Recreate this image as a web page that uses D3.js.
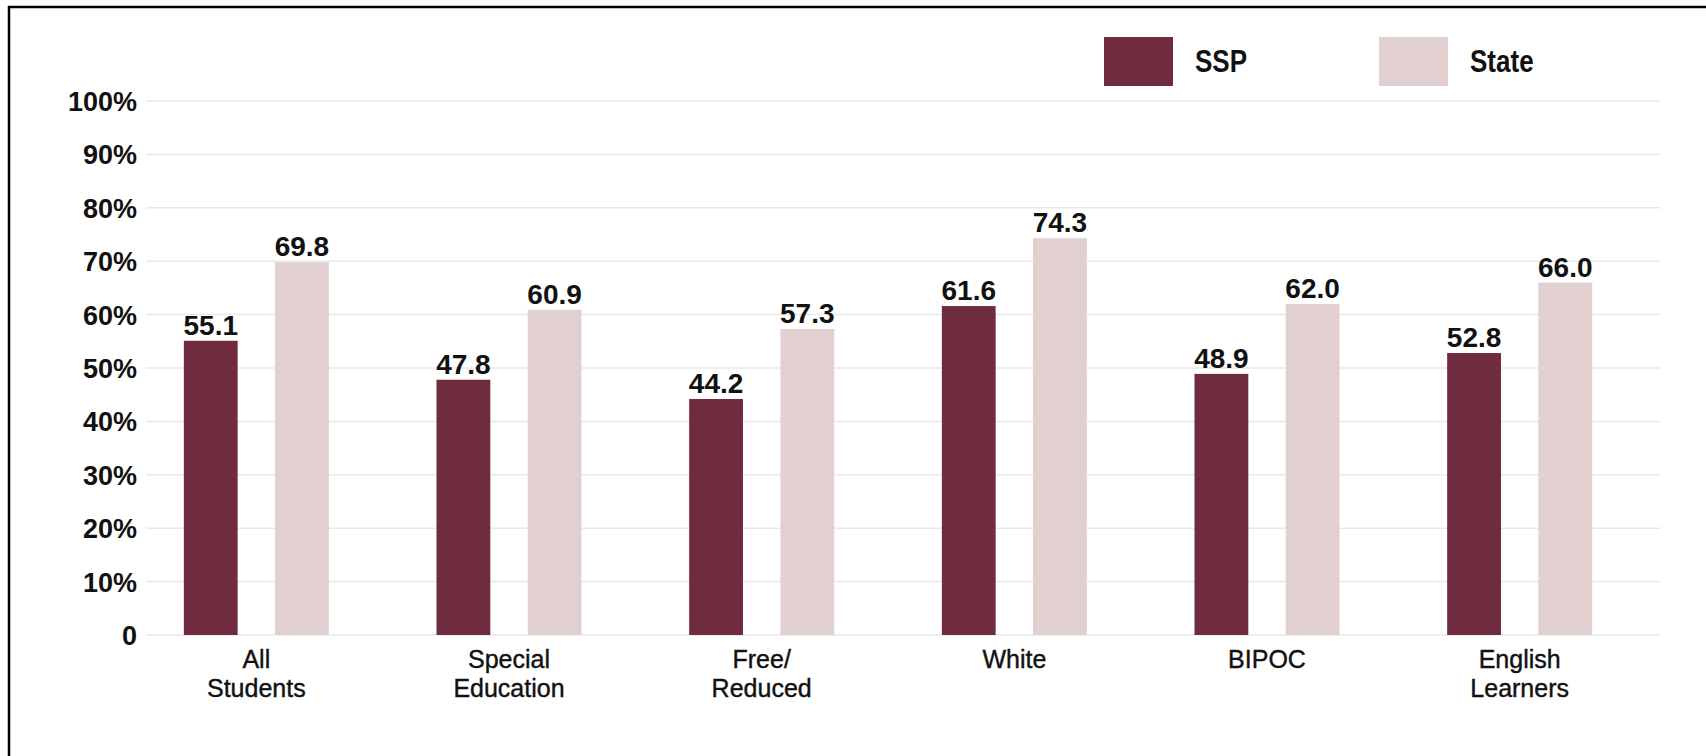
<!DOCTYPE html>
<html>
<head>
<meta charset="utf-8">
<script src="https://cdn.jsdelivr.net/npm/d3@7"></script>
<style>
  html, body { margin: 0; padding: 0; background: #fff; }
  svg { display: block; font-family: "Liberation Sans", Arial, sans-serif; }
</style>
</head>
<body>
<div id="chart"></div>
<script>
// chart data
const categories = [["All", "Students"], ["Special", "Education"], ["Free/", "Reduced"], ["White"], ["BIPOC"], ["English", "Learners"]];
const seriesNames = ["SSP", "State"];
const sspValues = [55.1, 47.8, 44.2, 61.6, 48.9, 52.8];
const stateValues = [69.8, 60.9, 57.3, 74.3, 62.0, 66.0];
const yTicks = [0, 10, 20, 30, 40, 50, 60, 70, 80, 90, 100];
const colors = ["#6e2c3e", "#e2cfcf"];

const width = 1706, height = 756;

const svg = d3.select("#chart")
    .append("svg")
    .attr("width", width)
    .attr("height", height);

// frame (top and left edges only are visible)
svg.append("line").attr("x1", 8).attr("x2", width).attr("y1", 7).attr("y2", 7)
    .attr("stroke", "#000").attr("stroke-width", 2.5);
svg.append("line").attr("x1", 9).attr("x2", 9).attr("y1", 6).attr("y2", height)
    .attr("stroke", "#000").attr("stroke-width", 2.5);

const y = d3.scaleLinear().domain([0, 100]).range([635, 101]);

const x0 = d3.scaleBand()
    .domain(d3.range(categories.length))
    .range([130, 1646]);

const x1 = d3.scaleBand()
    .domain(seriesNames)
    .range([x0.bandwidth() / 2 - 72.5, x0.bandwidth() / 2 + 72.5])
    .paddingInner(0.41);

// gridlines
svg.append("g")
    .selectAll("line")
    .data(yTicks)
    .join("line")
    .attr("x1", 146)
    .attr("x2", 1660)
    .attr("y1", d => y(d))
    .attr("y2", d => y(d))
    .attr("stroke", "#e9e9e9")
    .attr("stroke-width", 1.5);

// y tick labels
svg.append("g")
    .selectAll("text")
    .data(yTicks)
    .join("text")
    .attr("x", 137)
    .attr("y", d => y(d) + 10)
    .attr("text-anchor", "end")
    .attr("font-size", 27)
    .attr("font-weight", "bold")
    .attr("fill", "#111")
    .text(d => d === 0 ? "0" : d + "%");

const rows = categories.map((c, i) => ({ i: i, vals: [sspValues[i], stateValues[i]] }));

const groups = svg.append("g")
    .selectAll("g")
    .data(rows)
    .join("g")
    .attr("transform", d => "translate(" + x0(d.i) + ",0)");

groups.selectAll("rect")
    .data(d => d.vals.map((v, k) => ({ key: seriesNames[k], v: v })))
    .join("rect")
    .attr("x", d => x1(d.key))
    .attr("y", d => y(d.v))
    .attr("width", x1.bandwidth())
    .attr("height", d => y(0) - y(d.v))
    .attr("fill", (d, k) => colors[k]);

groups.selectAll("text.val")
    .data(d => d.vals.map((v, k) => ({ key: seriesNames[k], v: v })))
    .join("text")
    .attr("class", "val")
    .attr("x", d => x1(d.key) + x1.bandwidth() / 2)
    .attr("y", d => y(d.v) - 6)
    .attr("text-anchor", "middle")
    .attr("font-size", 28)
    .attr("font-weight", "bold")
    .attr("fill", "#111")
    .text(d => d.v.toFixed(1));

// category labels
groups.append("text")
    .attr("x", x0.bandwidth() / 2)
    .attr("y", 668)
    .attr("text-anchor", "middle")
    .attr("font-size", 25)
    .attr("fill", "#111")
    .attr("stroke", "#111")
    .attr("stroke-width", 0.4)
    .selectAll("tspan")
    .data(d => categories[d.i])
    .join("tspan")
    .attr("x", x0.bandwidth() / 2)
    .attr("dy", (d, k) => k === 0 ? 0 : 29)
    .text(d => d);

// legend
const legendX = [1104, 1379];
const legend = svg.append("g")
    .selectAll("g")
    .data(seriesNames)
    .join("g")
    .attr("transform", (d, k) => "translate(" + legendX[k] + ",37)");

legend.append("rect")
    .attr("width", 69)
    .attr("height", 49)
    .attr("fill", (d, k) => colors[k]);

legend.append("text")
    .attr("transform", "translate(91,35) scale(0.84,1)")
    .attr("font-size", 31)
    .attr("font-weight", "bold")
    .attr("fill", "#111")
    .text(d => d);
</script>
</body>
</html>
